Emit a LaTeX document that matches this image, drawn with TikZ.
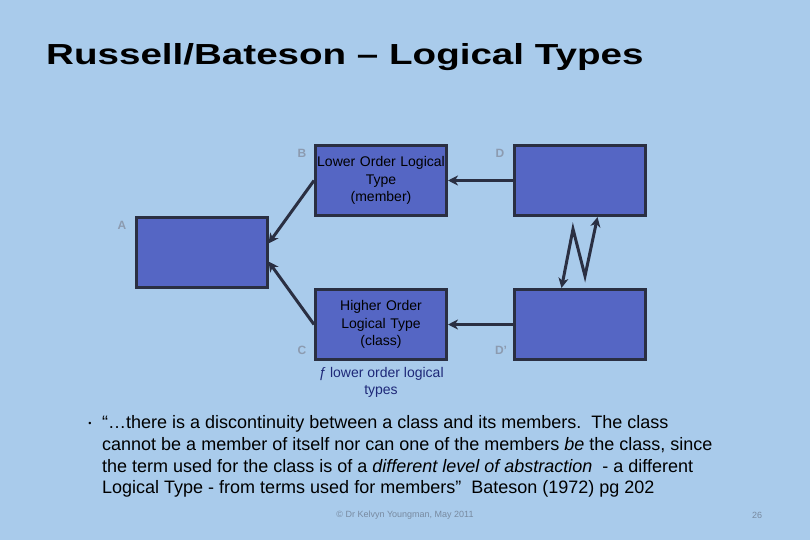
\documentclass[tikz,border=0pt]{standalone}
\usepackage{fontspec}
\setmainfont{Liberation Sans}
\usepackage{tikz}
\usetikzlibrary{arrows.meta,positioning,calc}
\usepackage{xcolor}
\definecolor{slidebg}{RGB}{169,203,235}
\definecolor{typefill}{RGB}{85,102,196}
\definecolor{typeedge}{RGB}{42,47,66}
\definecolor{tagcol}{RGB}{140,155,176}
\definecolor{notecol}{RGB}{30,40,120}
\definecolor{footcol}{RGB}{120,138,160}
\tikzstyle{arrow} = [line width=3pt,->,>={Stealth[length=10pt,width=10pt,inset=3pt]},color=typeedge]
\tikzstyle{typebox} = [rectangle, minimum width=131pt, minimum height=70pt, text width=128pt, align=center, draw=typeedge, fill=typefill, line width=3pt, inner sep=0pt, font=\fontsize{14}{17.5}\selectfont]
\tikzstyle{tag} = [text=tagcol, font=\fontsize{12}{14}\selectfont\bfseries, inner sep=0pt]

\begin{document}
\begin{tikzpicture}[x=1pt, y=-1pt]
\useasboundingbox[fill=slidebg] (0,0) rectangle (810,540);

% Title
\node[anchor=base west, inner sep=0pt, font=\fontsize{29}{34}\selectfont\bfseries] (title) at (46,65) {\scalebox{1.33}[1]{Russell/Bateson -- Logical Types}};

% Logical type boxes
\node[typebox] (A) at (201.5,252.5) {};
\node[typebox] (B) at (381,180.5) {Lower Order Logical\\Type\\(member)};
\node[typebox] (C) at (381,324.5) {Higher Order\\Logical Type\\(class)};
\node[typebox] (D) at (579.5,180.5) {};
\node[typebox] (Dp) at (579.5,324.5) {};

% Letters
\node[tag] (tA) at (122,225) {A};
\node[tag] (tB) at (302,153) {B};
\node[tag] (tC) at (302,350) {C};
\node[tag] (tD) at (500,153) {D};
\node[tag] (tDp) at (501,350) {D’};

% Note under C
\node[text=notecol, align=center, inner sep=0pt, font=\fontsize{14}{17.5}\selectfont] (note) at (381,382.5) {\textit{ƒ} lower order logical\\types};

% Connectors
\draw[arrow] (B.west) -- ([yshift=9pt]A.east);
\draw[arrow] (C.west) -- ([yshift=-9pt]A.east);
\draw[arrow] (D.west) -- (B.east);
\draw[arrow] (Dp.west) -- (C.east);
\draw[arrow, <->] ([xshift=-18pt]Dp.north) -- (573,229) -- (585,276) -- ([xshift=18pt]D.south);

% Quote
\node[anchor=north west, inner sep=0pt, font=\fontsize{18}{21.7}\selectfont, align=left] (quote) at (102,415.5) {“…there is a discontinuity between a class and its members.\ \ The class\\cannot be a member of itself nor can one of the members \textit{be} the class, since\\the term used for the class is of a \textit{different level of abstraction}\ \ - a different\\Logical Type - from terms used for members”\ \ Bateson (1972) pg 202};
\node[inner sep=0pt, font=\fontsize{9}{10}\selectfont] (dot) at (90,424) {•};

% Footer
\node[text=footcol, inner sep=0pt, font=\fontsize{9}{10}\selectfont] (foot) at (405,515) {© Dr Kelvyn Youngman, May 2011};
\node[text=footcol, inner sep=0pt, font=\fontsize{9}{10}\selectfont] (page) at (757,515) {26};
\end{tikzpicture}
\end{document}
